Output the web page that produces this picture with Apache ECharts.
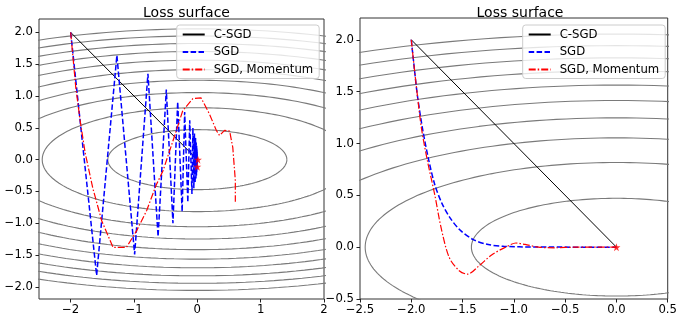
<!DOCTYPE html>
<html>
<head>
<meta charset="utf-8">
<script src="https://cdn.jsdelivr.net/npm/echarts@6/dist/echarts.min.js"></script>
<style>
  html, body { margin: 0; padding: 0; background: #fff; }
  #chart { width: 680px; height: 320px; }
</style>
</head>
<body>
<div id="chart"></div>
<script>
// contour levels of the loss f(x, y) = x^2 + 9 y^2
const contourLevels = [2, 6, 10, 14, 18, 22, 26, 30, 34, 38];

// left panel (large step)
const leftCsgdX = [-2, 0];
const leftCsgdY = [2, 0];
const leftSgdX = [-2, -1.59, -1.27, -0.99, -0.78, -0.62, -0.49, -0.385, -0.31, -0.24, -0.2, -0.15, -0.12, -0.085, -0.07,
  -0.055, -0.045, -0.035, -0.028, -0.022, -0.018, -0.014, -0.011, -0.009, -0.007, -0.006, -0.005, -0.004, -0.003, -0.002, -0.002];
const leftSgdY = [2, -1.82, 1.64, -1.49, 1.35, -1.21, 1.1, -1.0, 0.91, -0.82, 0.75, -0.67, 0.62, -0.54, 0.5,
  -0.45, 0.41, -0.37, 0.34, -0.3, 0.27, -0.25, 0.22, -0.2, 0.18, -0.16, 0.15, -0.13, 0.12, -0.11, 0.1];
const leftMomX = [-2, -1.92, -1.85, -1.77, -1.65, -1.51, -1.33, -1.12, -0.96, -0.8, -0.65, -0.54, -0.33, -0.23, -0.07,
  0.06, 0.19, 0.3, 0.35, 0.43, 0.51, 0.56, 0.6, 0.6];
const leftMomY = [2, 1.14, 0.61, 0.1, -0.45, -0.96, -1.38, -1.38, -1.12, -0.8, -0.4, -0.17, 0.46, 0.77, 0.96,
  0.97, 0.72, 0.46, 0.38, 0.46, 0.45, 0.19, -0.33, -0.66];
const leftEndX = [0.0, 0.01];
const leftEndY = [-0.11, 0.0];

// right panel (small step)
const rightCsgdX = [-2, 0];
const rightCsgdY = [2, 0];
const rightSgdX = [-2, -1.97, -1.94, -1.89, -1.83, -1.77, -1.7, -1.62, -1.53, -1.4, -1.25, -1.1, -0.8, 0];
const rightSgdY = [2, 1.72, 1.46, 1.14, 0.84, 0.6, 0.42, 0.28, 0.17, 0.075, 0.025, 0.008, 0.001, 0];
const rightMomX = [-2, -1.97, -1.94, -1.9, -1.84, -1.77, -1.71, -1.63, -1.53, -1.45, -1.34, -1.21, -1.08, -0.98,
  -0.89, -0.76, -0.6, -0.4, 0];
const rightMomY = [2, 1.72, 1.46, 1.14, 0.82, 0.5, 0.19, -0.1, -0.23, -0.26, -0.18, -0.07, 0.0, 0.04,
  0.026, 0.0, -0.006, 0, 0];
const rightEndX = [0];
const rightEndY = [0];

const leftXTicks = [-2, -1, 0, 1, 2];
const leftYTicks = [-2, -1.5, -1, -0.5, 0, 0.5, 1, 1.5, 2];
const legendNames = ['C-SGD', 'SGD', 'SGD, Momentum'];

const FONT = 'DejaVu Sans';
const STAR = 'path://M0,-10L2.35,-3.24L9.51,-3.09L3.8,1.24L5.88,8.09L0,4L-5.88,8.09L-3.8,1.24L-9.51,-3.09L-2.35,-3.24Z';

const zip = (xs, ys) => xs.map((x, i) => [x, ys[i]]);
const minus = (s) => s.replace('-', '\u2212');
const fmtInt = (v) => minus(String(Math.round(v) === 0 ? 0 : Math.round(v)));
const fmt1 = (v) => minus((Math.abs(v) < 1e-9 ? 0 : v).toFixed(1));

// ellipse points of one contour level
function contour(level) {
  const pts = [];
  for (let i = 0; i <= 240; i++) {
    const t = (i / 240) * Math.PI * 2;
    pts.push([Math.sqrt(level) * Math.cos(t), (Math.sqrt(level) / 3) * Math.sin(t)]);
  }
  return pts;
}

const tickStyle = { color: '#222', width: 1 };
const labelStyle = { fontFamily: FONT, fontSize: 11.7, color: '#000' };

function axisCommon(extra) {
  return Object.assign({
    type: 'value',
    axisLine: { show: false, onZero: false },
    splitLine: { show: false }
  }, extra);
}

function panelSeries(idx, csgd, sgd, mom, ends, smooth) {
  const out = contourLevels.map((lv) => ({
    type: 'line', xAxisIndex: idx, yAxisIndex: idx, data: contour(lv),
    symbol: 'none', silent: true, clip: true, z: 1,
    lineStyle: { color: '#7a7a7a', width: 1.1 }
  }));
  out.push({
    name: 'C-SGD', type: 'line', xAxisIndex: idx, yAxisIndex: idx, data: csgd,
    symbol: 'none', z: 3, itemStyle: { color: '#000' }, lineStyle: { color: '#000', width: 1 }
  });
  out.push({
    name: 'SGD', type: 'line', xAxisIndex: idx, yAxisIndex: idx, data: sgd,
    symbol: 'none', z: 4, smooth: smooth, itemStyle: { color: '#0000ff' },
    lineStyle: { color: '#0000ff', width: 1.5, type: [5.5, 2.4] }
  });
  out.push({
    name: 'SGD, Momentum', type: 'line', xAxisIndex: idx, yAxisIndex: idx, data: mom,
    symbol: 'none', z: 5, smooth: smooth, itemStyle: { color: '#ff0000' },
    lineStyle: { color: '#ff0000', width: 1.2, type: [7, 2, 1.5, 2] }
  });
  out.push({
    type: 'scatter', xAxisIndex: idx, yAxisIndex: idx, data: ends,
    symbol: STAR, symbolSize: 8, z: 6, silent: true,
    itemStyle: { color: '#ff0000' }
  });
  return out;
}

function legendAt(left, top) {
  return {
    data: legendNames, orient: 'vertical', left: left, top: top,
    itemWidth: 22, itemHeight: 12, itemGap: 5.5,
    padding: [3.5, 6, 3, 5],
    backgroundColor: 'rgba(255,255,255,0.8)',
    borderColor: '#cccccc', borderWidth: 1, borderRadius: 3,
    selectedMode: false,
    itemStyle: { opacity: 0 },
    textStyle: { fontFamily: FONT, fontSize: 11.7, color: '#000', padding: [0, 0, 0, 4] }
  };
}

const chart = echarts.init(document.getElementById('chart'), null, { renderer: 'canvas' });
const option = {
  animation: false,
  backgroundColor: '#fff',
  title: [
    { text: 'Loss surface', left: 181.5, top: 1, textAlign: 'center', textStyle: { fontFamily: FONT, fontSize: 14, fontWeight: 'normal', color: '#000' } },
    { text: 'Loss surface', left: 515, top: 1, textAlign: 'center', textStyle: { fontFamily: FONT, fontSize: 14, fontWeight: 'normal', color: '#000' } }
  ],
  legend: [legendAt(176.7, 25), legendAt(522.7, 25)],
  grid: [
    { left: 39, top: 19, width: 285, height: 280, show: true, borderColor: '#333', borderWidth: 1 },
    { left: 360, top: 18, width: 310, height: 281, show: true, borderColor: '#333', borderWidth: 1 }
  ],
  xAxis: [
    axisCommon({
      gridIndex: 0, min: -2.5, max: 2,
      axisTick: { show: true, length: 3.5, customValues: leftXTicks, lineStyle: tickStyle },
      axisLabel: Object.assign({ customValues: leftXTicks, formatter: fmtInt, margin: 5 }, labelStyle)
    }),
    axisCommon({
      gridIndex: 1, min: -2.5, max: 0.5, interval: 0.5,
      axisTick: { show: true, length: 3.5, lineStyle: tickStyle },
      axisLabel: Object.assign({ formatter: fmt1, margin: 5 }, labelStyle)
    })
  ],
  yAxis: [
    axisCommon({
      gridIndex: 0, min: -2.19, max: 2.21,
      axisTick: { show: true, length: 3.5, customValues: leftYTicks, lineStyle: tickStyle },
      axisLabel: Object.assign({ customValues: leftYTicks, formatter: fmt1, margin: 6 }, labelStyle)
    }),
    axisCommon({
      gridIndex: 1, min: -0.5, max: 2.21, interval: 0.5,
      axisTick: { show: true, length: 3.5, lineStyle: tickStyle },
      axisLabel: Object.assign({ formatter: fmt1, margin: 6, showMaxLabel: false }, labelStyle)
    })
  ],
  series: [].concat(
    panelSeries(0, zip(leftCsgdX, leftCsgdY), zip(leftSgdX, leftSgdY), zip(leftMomX, leftMomY), zip(leftEndX, leftEndY), false),
    panelSeries(1, zip(rightCsgdX, rightCsgdY), zip(rightSgdX, rightSgdY), zip(rightMomX, rightMomY), zip(rightEndX, rightEndY), 0.3)
  )
};
chart.setOption(option);
</script>
</body>
</html>
